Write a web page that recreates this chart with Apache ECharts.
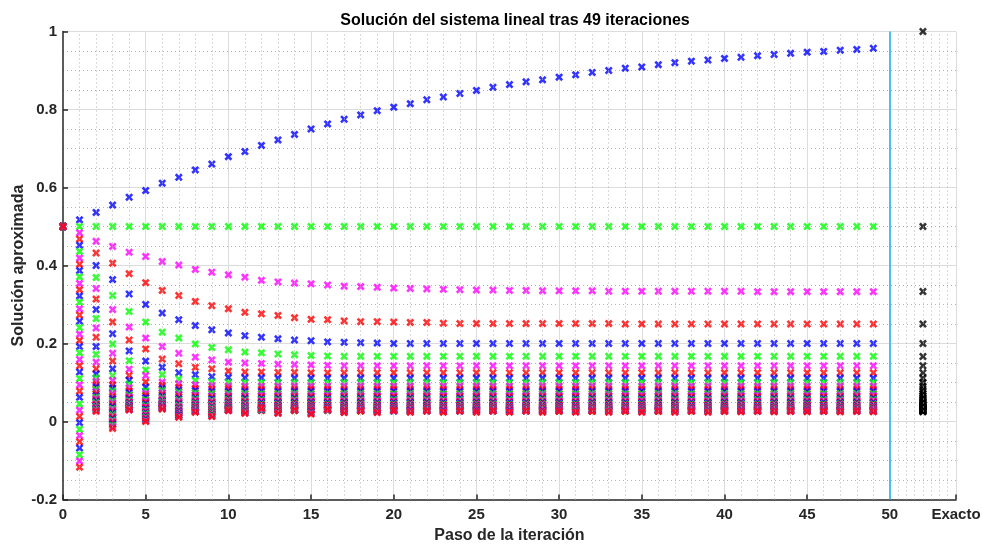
<!DOCTYPE html>
<html>
<head>
<meta charset="utf-8">
<title>Solución del sistema lineal</title>
<script src="https://cdn.jsdelivr.net/npm/echarts@6/dist/echarts.min.js"></script>
<style>
html, body { margin: 0; padding: 0; background: #fff; }
#grafico { width: 982px; height: 545px; }
</style>
</head>
<body>
<div id="grafico"></div>
<script>
// pasos de la iteracion (eje x)
var pasos = [0,1,2,3,4,5,6,7,8,9,10,11,12,13,14,15,16,17,18,19,20,21,22,23,24,
    25,26,27,28,29,30,31,32,33,34,35,36,37,38,39,40,41,42,43,44,45,46,47,48,49];

// solucion aproximada de cada incognita en cada paso
var x1 = [0.5,0.517,0.536,0.555,0.575,0.592,0.611,0.626,0.645,0.66,
    0.679,0.692,0.708,0.722,0.736,0.75,0.763,0.775,0.786,0.797,
    0.806,0.815,0.825,0.832,0.841,0.849,0.857,0.864,0.871,0.876,
    0.883,0.889,0.895,0.9,0.906,0.909,0.915,0.92,0.924,0.927,
    0.931,0.934,0.938,0.941,0.944,0.947,0.949,0.952,0.954,0.957];
var x2 = [0.5,0.5,0.5,0.5,0.5,0.5,0.5,0.5,0.5,0.5,
    0.5,0.5,0.5,0.5,0.5,0.5,0.5,0.5,0.5,0.5,
    0.5,0.5,0.5,0.5,0.5,0.5,0.5,0.5,0.5,0.5,
    0.5,0.5,0.5,0.5,0.5,0.5,0.5,0.5,0.5,0.5,
    0.5,0.5,0.5,0.5,0.5,0.5,0.5,0.5,0.5,0.5];
var x3 = [0.5,0.484,0.462,0.449,0.434,0.423,0.41,0.401,0.39,0.383,
    0.376,0.37,0.362,0.358,0.355,0.353,0.35,0.347,0.346,0.344,
    0.342,0.341,0.34,0.339,0.338,0.337,0.337,0.336,0.336,0.335,
    0.335,0.335,0.335,0.334,0.334,0.334,0.334,0.334,0.334,0.334,
    0.334,0.334,0.333,0.333,0.333,0.333,0.333,0.333,0.333,0.333];
var x4 = [0.5,0.468,0.432,0.406,0.379,0.356,0.336,0.323,0.308,0.297,
    0.289,0.28,0.276,0.272,0.266,0.262,0.261,0.258,0.256,0.256,
    0.255,0.254,0.254,0.252,0.251,0.251,0.251,0.251,0.251,0.251,
    0.251,0.251,0.251,0.251,0.25,0.25,0.25,0.25,0.25,0.25,
    0.25,0.25,0.25,0.25,0.25,0.25,0.25,0.25,0.25,0.25];
var x5 = [0.5,0.452,0.4,0.364,0.327,0.3,0.278,0.261,0.246,0.235,
    0.227,0.22,0.216,0.212,0.209,0.207,0.204,0.203,0.202,0.201,
    0.2,0.2,0.2,0.2,0.2,0.2,0.2,0.2,0.2,0.2,
    0.2,0.2,0.2,0.2,0.2,0.2,0.2,0.2,0.2,0.2,
    0.2,0.2,0.2,0.2,0.2,0.2,0.2,0.2,0.2,0.2];
var x6 = [0.5,0.436,0.369,0.323,0.282,0.255,0.229,0.214,0.199,0.19,
    0.184,0.178,0.176,0.173,0.171,0.169,0.168,0.167,0.167,0.167,
    0.167,0.167,0.167,0.167,0.167,0.167,0.167,0.167,0.167,0.167,
    0.167,0.167,0.167,0.167,0.167,0.167,0.167,0.167,0.167,0.167,
    0.167,0.167,0.167,0.167,0.167,0.167,0.167,0.167,0.167,0.167];
var x7 = [0.5,0.419,0.341,0.287,0.242,0.214,0.192,0.175,0.165,0.158,
    0.152,0.15,0.149,0.147,0.146,0.145,0.144,0.143,0.143,0.143,
    0.143,0.143,0.143,0.143,0.143,0.143,0.143,0.143,0.143,0.143,
    0.143,0.143,0.143,0.143,0.143,0.143,0.143,0.143,0.143,0.143,
    0.143,0.143,0.143,0.143,0.143,0.143,0.143,0.143,0.143,0.143];
var x8 = [0.5,0.403,0.314,0.255,0.209,0.186,0.16,0.148,0.139,0.135,
    0.129,0.127,0.127,0.126,0.126,0.125,0.125,0.125,0.125,0.125,
    0.125,0.125,0.125,0.125,0.125,0.125,0.125,0.125,0.125,0.125,
    0.125,0.125,0.125,0.125,0.125,0.125,0.125,0.125,0.125,0.125,
    0.125,0.125,0.125,0.125,0.125,0.125,0.125,0.125,0.125,0.125];
var x9 = [0.5,0.387,0.287,0.225,0.181,0.155,0.139,0.125,0.12,0.115,
    0.113,0.112,0.112,0.111,0.111,0.111,0.111,0.111,0.111,0.111,
    0.111,0.111,0.111,0.111,0.111,0.111,0.111,0.111,0.111,0.111,
    0.111,0.111,0.111,0.111,0.111,0.111,0.111,0.111,0.111,0.111,
    0.111,0.111,0.111,0.111,0.111,0.111,0.111,0.111,0.111,0.111];
var x10 = [0.5,0.371,0.264,0.199,0.156,0.132,0.12,0.109,0.105,0.101,
    0.1,0.1,0.1,0.1,0.1,0.1,0.1,0.1,0.1,0.1,
    0.1,0.1,0.1,0.1,0.1,0.1,0.1,0.1,0.1,0.1,
    0.1,0.1,0.1,0.1,0.1,0.1,0.1,0.1,0.1,0.1,
    0.1,0.1,0.1,0.1,0.1,0.1,0.1,0.1,0.1,0.1];
var x11 = [0.5,0.354,0.24,0.175,0.134,0.118,0.101,0.097,0.094,0.092,
    0.091,0.091,0.091,0.091,0.091,0.091,0.091,0.091,0.091,0.091,
    0.091,0.091,0.091,0.091,0.091,0.091,0.091,0.091,0.091,0.091,
    0.091,0.091,0.091,0.091,0.091,0.091,0.091,0.091,0.091,0.091,
    0.091,0.091,0.091,0.091,0.091,0.091,0.091,0.091,0.091,0.091];
var x12 = [0.5,0.338,0.216,0.155,0.118,0.101,0.093,0.088,0.085,0.084,
    0.084,0.083,0.083,0.083,0.083,0.083,0.083,0.083,0.083,0.083,
    0.083,0.083,0.083,0.083,0.083,0.083,0.083,0.083,0.083,0.083,
    0.083,0.083,0.083,0.083,0.083,0.083,0.083,0.083,0.083,0.083,
    0.083,0.083,0.083,0.083,0.083,0.083,0.083,0.083,0.083,0.083];
var x13 = [0.5,0.322,0.192,0.135,0.106,0.088,0.085,0.081,0.079,0.077,
    0.077,0.077,0.077,0.077,0.077,0.077,0.077,0.077,0.077,0.077,
    0.077,0.077,0.077,0.077,0.077,0.077,0.077,0.077,0.077,0.077,
    0.077,0.077,0.077,0.077,0.077,0.077,0.077,0.077,0.077,0.077,
    0.077,0.077,0.077,0.077,0.077,0.077,0.077,0.077,0.077,0.077];
var x14 = [0.5,0.306,0.172,0.118,0.096,0.079,0.079,0.075,0.073,0.071,
    0.072,0.071,0.071,0.071,0.071,0.071,0.071,0.071,0.071,0.071,
    0.071,0.071,0.071,0.071,0.071,0.071,0.071,0.071,0.071,0.071,
    0.071,0.071,0.071,0.071,0.071,0.071,0.071,0.071,0.071,0.071,
    0.071,0.071,0.071,0.071,0.071,0.071,0.071,0.071,0.071,0.071];
var x15 = [0.5,0.289,0.152,0.105,0.087,0.072,0.073,0.069,0.068,0.066,
    0.067,0.066,0.067,0.067,0.067,0.067,0.067,0.067,0.067,0.067,
    0.067,0.067,0.067,0.067,0.067,0.067,0.067,0.067,0.067,0.067,
    0.067,0.067,0.067,0.067,0.067,0.067,0.067,0.067,0.067,0.067,
    0.067,0.067,0.067,0.067,0.067,0.067,0.067,0.067,0.067,0.067];
var x16 = [0.5,0.273,0.135,0.094,0.079,0.066,0.068,0.064,0.064,0.062,
    0.063,0.062,0.063,0.063,0.063,0.063,0.063,0.063,0.063,0.063,
    0.063,0.063,0.063,0.063,0.063,0.063,0.063,0.063,0.063,0.063,
    0.063,0.063,0.063,0.063,0.063,0.063,0.063,0.063,0.063,0.063,
    0.063,0.063,0.063,0.063,0.063,0.063,0.063,0.063,0.063,0.063];
var x17 = [0.5,0.257,0.122,0.086,0.073,0.061,0.064,0.059,0.060,0.058,
    0.059,0.059,0.059,0.059,0.059,0.059,0.059,0.059,0.059,0.059,
    0.059,0.059,0.059,0.059,0.059,0.059,0.059,0.059,0.059,0.059,
    0.059,0.059,0.059,0.059,0.059,0.059,0.059,0.059,0.059,0.059,
    0.059,0.059,0.059,0.059,0.059,0.059,0.059,0.059,0.059,0.059];
var x18 = [0.5,0.241,0.112,0.078,0.068,0.056,0.060,0.055,0.057,0.054,
    0.056,0.055,0.056,0.056,0.056,0.056,0.056,0.056,0.056,0.056,
    0.056,0.056,0.056,0.056,0.056,0.056,0.056,0.056,0.056,0.056,
    0.056,0.056,0.056,0.056,0.056,0.056,0.056,0.056,0.056,0.056,
    0.056,0.056,0.056,0.056,0.056,0.056,0.056,0.056,0.056,0.056];
var x19 = [0.5,0.224,0.103,0.071,0.064,0.052,0.057,0.051,0.054,0.051,
    0.053,0.052,0.053,0.053,0.053,0.053,0.053,0.053,0.053,0.053,
    0.053,0.053,0.053,0.053,0.053,0.053,0.053,0.053,0.053,0.053,
    0.053,0.053,0.053,0.053,0.053,0.053,0.053,0.053,0.053,0.053,
    0.053,0.053,0.053,0.053,0.053,0.053,0.053,0.053,0.053,0.053];
var x20 = [0.5,0.208,0.095,0.064,0.060,0.048,0.054,0.047,0.051,0.048,
    0.051,0.050,0.050,0.050,0.050,0.050,0.050,0.050,0.050,0.050,
    0.050,0.050,0.050,0.050,0.050,0.050,0.050,0.050,0.050,0.050,
    0.050,0.050,0.050,0.050,0.050,0.050,0.050,0.050,0.050,0.050,
    0.050,0.050,0.050,0.050,0.050,0.050,0.050,0.050,0.050,0.050];
var x21 = [0.5,0.192,0.088,0.058,0.057,0.044,0.052,0.044,0.049,0.045,
    0.048,0.047,0.048,0.048,0.048,0.048,0.048,0.048,0.048,0.048,
    0.048,0.048,0.048,0.048,0.048,0.048,0.048,0.048,0.048,0.048,
    0.048,0.048,0.048,0.048,0.048,0.048,0.048,0.048,0.048,0.048,
    0.048,0.048,0.048,0.048,0.048,0.048,0.048,0.048,0.048,0.048];
var x22 = [0.5,0.176,0.082,0.052,0.054,0.041,0.050,0.041,0.047,0.043,
    0.046,0.045,0.045,0.045,0.045,0.045,0.045,0.045,0.045,0.045,
    0.045,0.045,0.045,0.045,0.045,0.045,0.045,0.045,0.045,0.045,
    0.045,0.045,0.045,0.045,0.045,0.045,0.045,0.045,0.045,0.045,
    0.045,0.045,0.045,0.045,0.045,0.045,0.045,0.045,0.045,0.045];
var x23 = [0.5,0.159,0.076,0.047,0.051,0.038,0.048,0.038,0.045,0.041,
    0.044,0.043,0.043,0.043,0.043,0.043,0.043,0.043,0.043,0.043,
    0.043,0.043,0.043,0.043,0.043,0.043,0.043,0.043,0.043,0.043,
    0.043,0.043,0.043,0.043,0.043,0.043,0.043,0.043,0.043,0.043,
    0.043,0.043,0.043,0.043,0.043,0.043,0.043,0.043,0.043,0.043];
var x24 = [0.5,0.143,0.071,0.042,0.049,0.035,0.046,0.036,0.043,0.039,
    0.042,0.041,0.042,0.042,0.042,0.042,0.042,0.042,0.042,0.042,
    0.042,0.042,0.042,0.042,0.042,0.042,0.042,0.042,0.042,0.042,
    0.042,0.042,0.042,0.042,0.042,0.042,0.042,0.042,0.042,0.042,
    0.042,0.042,0.042,0.042,0.042,0.042,0.042,0.042,0.042,0.042];
var x25 = [0.5,0.127,0.066,0.037,0.047,0.032,0.045,0.034,0.041,0.037,
    0.041,0.039,0.040,0.040,0.040,0.040,0.040,0.040,0.040,0.040,
    0.040,0.040,0.040,0.040,0.040,0.040,0.040,0.040,0.040,0.040,
    0.040,0.040,0.040,0.040,0.040,0.040,0.040,0.040,0.040,0.040,
    0.040,0.040,0.040,0.040,0.040,0.040,0.040,0.040,0.040,0.040];
var x26 = [0.5,0.110,0.062,0.033,0.045,0.029,0.044,0.032,0.039,0.035,
    0.039,0.037,0.038,0.038,0.038,0.038,0.038,0.038,0.038,0.038,
    0.038,0.038,0.038,0.038,0.038,0.038,0.038,0.038,0.038,0.038,
    0.038,0.038,0.038,0.038,0.038,0.038,0.038,0.038,0.038,0.038,
    0.038,0.038,0.038,0.038,0.038,0.038,0.038,0.038,0.038,0.038];
var x27 = [0.5,0.094,0.058,0.029,0.043,0.027,0.043,0.030,0.037,0.033,
    0.038,0.036,0.037,0.037,0.037,0.037,0.037,0.037,0.037,0.037,
    0.037,0.037,0.037,0.037,0.037,0.037,0.037,0.037,0.037,0.037,
    0.037,0.037,0.037,0.037,0.037,0.037,0.037,0.037,0.037,0.037,
    0.037,0.037,0.037,0.037,0.037,0.037,0.037,0.037,0.037,0.037];
var x28 = [0.5,0.078,0.054,0.025,0.041,0.024,0.042,0.028,0.036,0.031,
    0.037,0.034,0.036,0.036,0.036,0.036,0.036,0.036,0.036,0.036,
    0.036,0.036,0.036,0.036,0.036,0.036,0.036,0.036,0.036,0.036,
    0.036,0.036,0.036,0.036,0.036,0.036,0.036,0.036,0.036,0.036,
    0.036,0.036,0.036,0.036,0.036,0.036,0.036,0.036,0.036,0.036];
var x29 = [0.5,0.062,0.051,0.021,0.040,0.022,0.041,0.026,0.034,0.029,
    0.035,0.033,0.034,0.034,0.034,0.034,0.034,0.034,0.034,0.034,
    0.034,0.034,0.034,0.034,0.034,0.034,0.034,0.034,0.034,0.034,
    0.034,0.034,0.034,0.034,0.034,0.034,0.034,0.034,0.034,0.034,
    0.034,0.034,0.034,0.034,0.034,0.034,0.034,0.034,0.034,0.034];
var x30 = [0.5,0.045,0.048,0.017,0.038,0.020,0.040,0.024,0.033,0.028,
    0.034,0.032,0.033,0.033,0.033,0.033,0.033,0.033,0.033,0.033,
    0.033,0.033,0.033,0.033,0.033,0.033,0.033,0.033,0.033,0.033,
    0.033,0.033,0.033,0.033,0.033,0.033,0.033,0.033,0.033,0.033,
    0.033,0.033,0.033,0.033,0.033,0.033,0.033,0.033,0.033,0.033];
var x31 = [0.5,0.029,0.045,0.013,0.037,0.017,0.039,0.023,0.032,0.026,
    0.033,0.030,0.032,0.032,0.032,0.032,0.032,0.032,0.032,0.032,
    0.032,0.032,0.032,0.032,0.032,0.032,0.032,0.032,0.032,0.032,
    0.032,0.032,0.032,0.032,0.032,0.032,0.032,0.032,0.032,0.032,
    0.032,0.032,0.032,0.032,0.032,0.032,0.032,0.032,0.032,0.032];
var x32 = [0.5,0.013,0.043,0.010,0.036,0.015,0.038,0.021,0.031,0.025,
    0.033,0.029,0.031,0.031,0.031,0.031,0.031,0.031,0.031,0.031,
    0.031,0.031,0.031,0.031,0.031,0.031,0.031,0.031,0.031,0.031,
    0.031,0.031,0.031,0.031,0.031,0.031,0.031,0.031,0.031,0.031,
    0.031,0.031,0.031,0.031,0.031,0.031,0.031,0.031,0.031,0.031];
var x33 = [0.5,-0.003,0.040,0.006,0.035,0.013,0.037,0.020,0.030,0.023,
    0.032,0.028,0.030,0.030,0.030,0.030,0.030,0.030,0.030,0.030,
    0.030,0.030,0.030,0.030,0.030,0.030,0.030,0.030,0.030,0.030,
    0.030,0.030,0.030,0.030,0.030,0.030,0.030,0.030,0.030,0.030,
    0.030,0.030,0.030,0.030,0.030,0.030,0.030,0.030,0.030,0.030];
var x34 = [0.5,-0.020,0.038,0.003,0.034,0.011,0.036,0.018,0.029,0.022,
    0.031,0.027,0.029,0.029,0.029,0.029,0.029,0.029,0.029,0.029,
    0.029,0.029,0.029,0.029,0.029,0.029,0.029,0.029,0.029,0.029,
    0.029,0.029,0.029,0.029,0.029,0.029,0.029,0.029,0.029,0.029,
    0.029,0.029,0.029,0.029,0.029,0.029,0.029,0.029,0.029,0.029];
var x35 = [0.5,-0.036,0.036,0.000,0.033,0.009,0.036,0.017,0.028,0.020,
    0.030,0.026,0.029,0.029,0.029,0.029,0.029,0.029,0.029,0.029,
    0.029,0.029,0.029,0.029,0.029,0.029,0.029,0.029,0.029,0.029,
    0.029,0.029,0.029,0.029,0.029,0.029,0.029,0.029,0.029,0.029,
    0.029,0.029,0.029,0.029,0.029,0.029,0.029,0.029,0.029,0.029];
var x36 = [0.5,-0.052,0.034,-0.003,0.032,0.007,0.035,0.016,0.027,0.019,
    0.030,0.025,0.028,0.028,0.028,0.028,0.028,0.028,0.028,0.028,
    0.028,0.028,0.028,0.028,0.028,0.028,0.028,0.028,0.028,0.028,
    0.028,0.028,0.028,0.028,0.028,0.028,0.028,0.028,0.028,0.028,
    0.028,0.028,0.028,0.028,0.028,0.028,0.028,0.028,0.028,0.028];
var x37 = [0.5,-0.068,0.032,-0.007,0.031,0.005,0.034,0.015,0.026,0.017,
    0.029,0.024,0.030,0.024,0.029,0.024,0.029,0.025,0.028,0.026,
    0.027,0.027,0.027,0.027,0.027,0.027,0.027,0.027,0.027,0.027,
    0.027,0.027,0.027,0.027,0.027,0.027,0.027,0.027,0.027,0.027,
    0.027,0.027,0.027,0.027,0.027,0.027,0.027,0.027,0.027,0.027];
var x38 = [0.5,-0.085,0.030,-0.010,0.031,0.003,0.033,0.013,0.025,0.016,
    0.029,0.023,0.031,0.023,0.028,0.022,0.029,0.024,0.027,0.025,
    0.027,0.025,0.027,0.025,0.027,0.025,0.027,0.025,0.027,0.025,
    0.026,0.026,0.026,0.026,0.026,0.026,0.026,0.026,0.026,0.026,
    0.026,0.026,0.026,0.026,0.026,0.026,0.026,0.026,0.026,0.026];
var x39 = [0.5,-0.101,0.028,-0.014,0.030,0.002,0.033,0.012,0.025,0.014,
    0.028,0.022,0.033,0.022,0.029,0.021,0.030,0.024,0.028,0.024,
    0.027,0.025,0.027,0.025,0.027,0.025,0.027,0.025,0.027,0.025,
    0.027,0.025,0.027,0.025,0.027,0.025,0.027,0.025,0.027,0.025,
    0.026,0.026,0.026,0.026,0.026,0.026,0.026,0.026,0.026,0.026];
var x40 = [0.5,-0.117,0.026,-0.018,0.030,0.000,0.032,0.011,0.024,0.013,
    0.028,0.021,0.034,0.021,0.029,0.019,0.031,0.023,0.027,0.023,
    0.028,0.024,0.027,0.024,0.027,0.024,0.027,0.024,0.027,0.024,
    0.026,0.024,0.026,0.024,0.026,0.024,0.026,0.024,0.026,0.024,
    0.026,0.025,0.026,0.025,0.026,0.025,0.026,0.025,0.026,0.025];

// solucion exacta, dibujada en la columna "Exacto"
var exacto = [1,0.5,0.3333,0.25,0.2,0.1667,0.1429,0.125,0.1111,0.1,
    0.0909,0.0833,0.0769,0.0714,0.0667,0.0625,0.0588,0.0556,0.0526,0.05,
    0.0476,0.0455,0.0435,0.0417,0.04,0.0385,0.037,0.0357,0.0345,0.0333,
    0.0323,0.0313,0.0303,0.0294,0.0286,0.0278,0.027,0.0263,0.0256,0.025];
var posExacto = 52;
var ultimoPaso = 50;

var soluciones = [x1,x2,x3,x4,x5,x6,x7,x8,x9,x10,x11,x12,x13,x14,x15,x16,x17,x18,x19,x20,
    x21,x22,x23,x24,x25,x26,x27,x28,x29,x30,x31,x32,x33,x34,x35,x36,x37,x38,x39,x40];
var colores = ['#0000ff', '#00ff00', '#ff00ff', '#ff0000'];

// marcador en forma de aspa
var aspa = 'path://M0,2.3 L2.3,0 L5,2.7 L7.7,0 L10,2.3 L7.3,5 L10,7.7 L7.7,10 L5,7.3 L2.3,10 L0,7.7 L2.7,5 Z';
var fuente = 'Liberation Sans, Arial, Helvetica, sans-serif';

var Page = {
    init: function () {
        var myChart = echarts.init(document.getElementById('grafico'));

        //rejilla menor vertical (puntos)
        var rejilla = [];
        for (var g = 1; g < ultimoPaso; g++) {
            if (g % 5 != 0) rejilla.push({ xAxis: g });
        }
        for (var h = ultimoPaso + 0.5; h < 54; h += 0.5) {
            rejilla.push({ xAxis: h });
        }

        var series = [];
        series.push({
            type: 'scatter',
            data: [],
            silent: true,
            z: 1,
            markLine: {
                silent: true,
                symbol: 'none',
                label: { show: false },
                animation: false,
                lineStyle: { color: '#b3b3b3', type: [1, 3], width: 1 },
                data: rejilla
            }
        });
        series.push({
            type: 'scatter',
            data: [],
            silent: true,
            z: 2,
            markLine: {
                silent: true,
                symbol: 'none',
                label: { show: false },
                animation: false,
                lineStyle: { color: '#4dbeee', type: 'solid', width: 2 },
                data: [{ xAxis: ultimoPaso }]
            }
        });

        for (var i = 0; i < soluciones.length; i++) {
            var puntos = [];
            for (var k = 0; k < pasos.length; k++) {
                puntos.push([pasos[k], soluciones[i][k]]);
            }
            series.push({
                type: 'scatter',
                name: 'x' + (i + 1),
                data: puntos,
                symbol: aspa,
                symbolSize: 8,
                itemStyle: { color: colores[i % 4] },
                silent: true,
                z: 3
            });
        }

        var puntosExactos = [];
        for (var j = 0; j < exacto.length; j++) {
            puntosExactos.push([posExacto, exacto[j]]);
        }
        series.push({
            type: 'scatter',
            name: 'Exacto',
            data: puntosExactos,
            symbol: aspa,
            symbolSize: 8,
            itemStyle: { color: '#000000' },
            silent: true,
            z: 3
        });

        var option = {
            animation: false,
            backgroundColor: '#ffffff',
            textStyle: { fontFamily: fuente },
            title: {
                text: 'Solución del sistema lineal tras 49 iteraciones',
                left: 510,
                top: 8,
                textAlign: 'center',
                textStyle: { fontFamily: fuente, fontSize: 16, fontWeight: 'bold', color: '#000' }
            },
            grid: {
                left: 63,
                right: 26,
                top: 31.5,
                bottom: 45.5,
                outerBoundsMode: 'none'
            },
            xAxis: {
                type: 'value',
                min: 0,
                max: 54,
                interval: 5,
                name: 'Paso de la iteración',
                nameLocation: 'middle',
                nameGap: 28,
                nameMoveOverlap: false,
                nameTextStyle: { fontFamily: fuente, fontSize: 16, fontWeight: 'bold', color: '#262626' },
                axisLine: { onZero: false, lineStyle: { color: '#262626', width: 1.5 } },
                axisTick: { inside: true, length: 5, lineStyle: { color: '#262626', width: 1.5 } },
                axisLabel: {
                    margin: 8,
                    fontFamily: fuente,
                    fontSize: 15,
                    fontWeight: 'bold',
                    color: '#262626',
                    formatter: function (v) { return v === 54 ? 'Exacto' : v; }
                },
                splitLine: { show: true, showMinLine: false, lineStyle: { color: '#dcdcdc', width: 1 } },
                minorSplitLine: { show: false }
            },
            yAxis: {
                type: 'value',
                min: -0.2,
                max: 1,
                interval: 0.2,
                name: 'Solución aproximada',
                nameLocation: 'middle',
                nameGap: 36,
                nameMoveOverlap: false,
                nameTextStyle: { fontFamily: fuente, fontSize: 16, fontWeight: 'bold', color: '#262626' },
                axisLine: { show: true, lineStyle: { color: '#262626', width: 1.5 } },
                axisTick: { show: true, inside: true, length: 5, lineStyle: { color: '#262626', width: 1.5 } },
                axisLabel: { margin: 6, fontFamily: fuente, fontSize: 15, fontWeight: 'bold', color: '#262626' },
                splitLine: { show: true, showMinLine: false, lineStyle: { color: '#dcdcdc', width: 1 } },
                minorTick: { show: false, splitNumber: 4 },
                minorSplitLine: { show: true, lineStyle: { color: '#b3b3b3', type: [1, 3], width: 1 } }
            },
            series: series
        };
        myChart.setOption(option);
    }
};

Page.init();
</script>
</body>
</html>
